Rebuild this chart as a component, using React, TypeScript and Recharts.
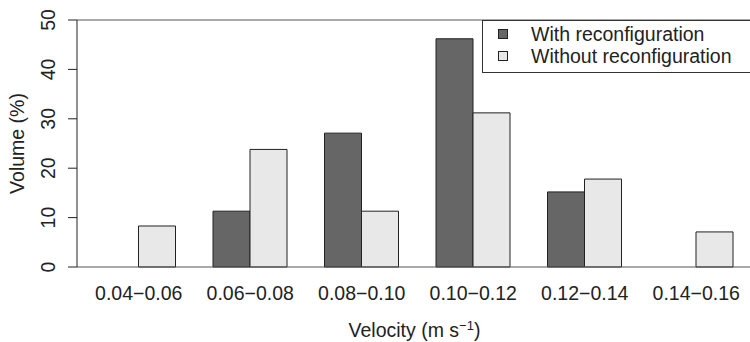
import { BarChart, Bar, XAxis, YAxis, ReferenceLine, Legend } from "recharts"

const categories = ["0.04−0.06", "0.06−0.08", "0.08−0.10", "0.10−0.12", "0.12−0.14", "0.14−0.16"]
const withReconf = [null, 11.3, 27.1, 46.2, 15.2, null]
const withoutReconf = [8.3, 23.8, 11.3, 31.2, 17.8, 7.1]
const yTicks = [0, 10, 20, 30, 40, 50]

const seriesNames = ["With reconfiguration", "Without reconfiguration"]
const seriesColors = ["#666666", "#e8e8e8"]

const data = categories.map((c, i) => ({ range: c, with: withReconf[i], without: withoutReconf[i] }))

const FONT = "'Liberation Sans', Arial, Helvetica, sans-serif"
const FS = 19.5
const INK = "#222"

const XTick = (props: any) => {
  const { x, y, payload } = props
  return (
    <text x={x} y={y + 33} textAnchor="middle" fontFamily={FONT} fontSize={FS} fill={INK}>
      {payload.value}
    </text>
  )
}

const YTick = (props: any) => {
  const { x, y, payload } = props
  const bx = x - 13
  return (
    <text x={bx} y={y} transform={`rotate(-90, ${bx}, ${y})`} textAnchor="middle" fontFamily={FONT} fontSize={FS} fill={INK}>
      {payload.value}
    </text>
  )
}

const XTitle = (props: any) => {
  const vb = props.viewBox
  const cx = vb.x + vb.width / 2
  return (
    <text x={cx} y={337} textAnchor="middle" fontFamily={FONT} fontSize={FS} fill={INK}>
      Velocity (m s
      <tspan dy={-7} fontSize={13}>−1</tspan>
      <tspan dy={7}>)</tspan>
    </text>
  )
}

const YTitle = (props: any) => {
  const vb = props.viewBox
  const cy = vb.y + vb.height / 2
  return (
    <text x={24} y={cy} transform={`rotate(-90, 24, ${cy})`} textAnchor="middle" fontFamily={FONT} fontSize={FS} fill={INK}>
      Volume (%)
    </text>
  )
}

const LegendBox = () => (
  <div
    style={{
      border: "1px solid #333",
      background: "#fff",
      padding: "2px 0 5px 15px",
      fontFamily: FONT,
      fontSize: FS,
      color: INK,
      width: 300,
      textAlign: "left",
    }}
  >
    {seriesNames.map((n, i) => (
      <div key={n} style={{ display: "flex", alignItems: "center", height: 22 }}>
        <span
          style={{
            display: "inline-block",
            width: 8,
            height: 8,
            background: seriesColors[i],
            border: "1.5px solid #222",
            marginRight: 23,
          }}
        />
        <span style={{ lineHeight: "22px" }}>{n}</span>
      </div>
    ))}
  </div>
)

export default function App() {
  return (
    <div style={{ position: "absolute", left: 0, top: 0, width: 750, height: 342, overflow: "hidden", background: "#fff" }}>
      <BarChart
        width={752}
        height={342}
        data={data}
        margin={{ top: 20, right: 0, bottom: 0, left: 0 }}
        barCategoryGap="16.6%"
        barGap={0}
      >
        <XAxis
          dataKey="range"
          height={75}
          padding={{ left: 6, right: 0 }}
          axisLine={false}
          tickLine={false}
          tickSize={0}
          tickMargin={0}
          tick={<XTick />}
          interval={0}
          label={<XTitle />}
        />
        <YAxis
          width={77}
          domain={[0, 50]}
          ticks={yTicks}
          interval={0}
          tickSize={9}
          tickMargin={0}
          axisLine={{ stroke: INK, strokeWidth: 1 }}
          tickLine={{ stroke: INK, strokeWidth: 1 }}
          tick={<YTick />}
          label={<YTitle />}
        />
        <ReferenceLine y={0} stroke="#555" strokeWidth={1} />
        <ReferenceLine y={50} stroke="#555" strokeWidth={1} />
        <Bar dataKey="with" name={seriesNames[0]} fill={seriesColors[0]} stroke="#222" strokeWidth={1} isAnimationActive={false} />
        <Bar dataKey="without" name={seriesNames[1]} fill={seriesColors[1]} stroke="#222" strokeWidth={1} isAnimationActive={false} />
        <Legend
          layout="vertical"
          align="center"
          verticalAlign="middle"
          content={<LegendBox />}
          wrapperStyle={{ position: "absolute", left: 482, top: 20, width: 300 }}
        />
      </BarChart>
    </div>
  )
}
